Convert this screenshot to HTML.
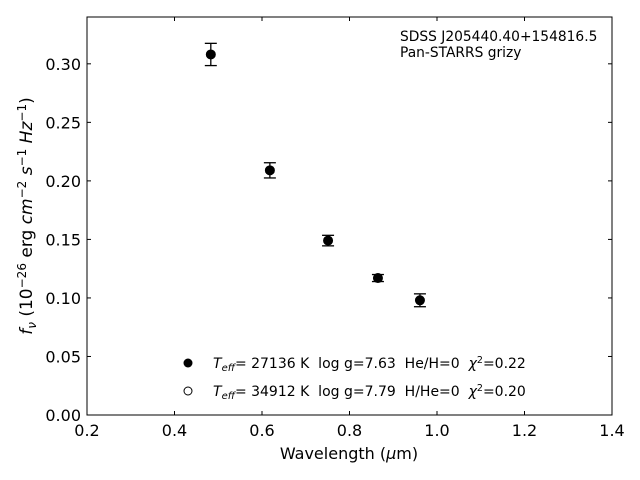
<!DOCTYPE html>
<html><head><meta charset="utf-8"><style>
body{margin:0;background:#fff}
svg{display:block;font-family:"DejaVu Sans","Liberation Sans",sans-serif}
text{white-space:pre}
</style></head><body>
<svg id="chart" width="640" height="480"></svg>
<script>
const wavelengths=[0.483,0.618,0.751,0.865,0.961];
const fluxFilled=[0.308,0.209,0.149,0.117,0.098];
const fluxErr=[0.0095,0.0065,0.0045,0.003,0.0055];
const fluxOpen=[0.308,0.209,0.149,0.117,0.098];
const xTicks=[0.2,0.4,0.6,0.8,1.0,1.2,1.4];
const yTicks=[0,0.05,0.10,0.15,0.20,0.25,0.30];
const L=87,R=612,T=17,B=415,X0=0.2,X1=1.4,Y0=0,Y1=0.34;
const sx=v=>L+(v-X0)/(X1-X0)*(R-L);
const sy=v=>B-(v-Y0)/(Y1-Y0)*(B-T);
const svg=document.getElementById('chart');
const NS='http://www.w3.org/2000/svg';
function mk(tag,attrs,parent){const e=document.createElementNS(NS,tag);for(const k in attrs)e.setAttribute(k,attrs[k]);(parent||svg).appendChild(e);return e;}
let f=mk('rect',{x:L,y:T,width:R-L,height:B-T,fill:'none',stroke:'#000','stroke-width':1});


xTicks.forEach(v=>{const x=sx(v);
mk('line',{x1:x,x2:x,y1:B,y2:B-4,stroke:'#000'});
mk('line',{x1:x,x2:x,y1:T,y2:T+4,stroke:'#000'});
const t=mk('text',{x:x,y:B+21,'text-anchor':'middle','font-size':16});t.textContent=v.toFixed(1);

});
yTicks.forEach(v=>{const y=sy(v);
mk('line',{x1:L,x2:L+4,y1:y,y2:y,stroke:'#000'});
mk('line',{x1:R,x2:R-4,y1:y,y2:y,stroke:'#000'});
const t=mk('text',{x:L-6,y:y+6,'text-anchor':'end','font-size':16});t.textContent=v.toFixed(2);

});
wavelengths.forEach((w,i)=>{const x=sx(w),y=sy(fluxFilled[i]),e=fluxErr[i];
const g=mk('g',{});


mk('line',{x1:x,x2:x,y1:sy(fluxFilled[i]-e),y2:sy(fluxFilled[i]+e),stroke:'#000','stroke-width':1.3},g);
[fluxFilled[i]-e,fluxFilled[i]+e].forEach(v=>mk('line',{x1:x-6,x2:x+6,y1:sy(v),y2:sy(v),stroke:'#000','stroke-width':1.3},g));
mk('circle',{cx:x,cy:sy(fluxOpen[i]),r:4.5,fill:'#fff',stroke:'#000'},g);
mk('circle',{cx:x,cy:y,r:4.5,fill:'#000'},g);});
</script>
<svg width="640" height="480" style="position:absolute;left:0;top:0">
<g>
<text x="400" y="41" font-size="13.8">SDSS J205440.40+154816.5</text>
<text x="400" y="57" font-size="13.8">Pan-STARRS grizy</text>
<text x="349" y="459" font-size="16" text-anchor="middle">Wavelength (<tspan font-style="italic">μ</tspan>m)</text>
<text transform="translate(32,216) rotate(-90)" font-size="17" text-anchor="middle"><tspan font-style="italic">f</tspan><tspan font-style="italic" font-size="12" dy="4">ν</tspan><tspan dy="-4"> (10</tspan><tspan font-size="12" dy="-6">−26</tspan><tspan dy="6"> erg </tspan><tspan font-style="italic">cm</tspan><tspan font-size="12" dy="-6">−2</tspan><tspan dy="6" font-style="italic"> s</tspan><tspan font-size="12" dy="-6">−1</tspan><tspan dy="6" font-style="italic"> Hz</tspan><tspan font-size="12" dy="-6">−1</tspan><tspan dy="6">)</tspan></text>
<g>
<circle cx="188" cy="363" r="4.5" fill="#000"/>
<text x="213" y="368" font-size="14"><tspan font-style="italic">T</tspan><tspan font-style="italic" font-size="10" dy="3">eff</tspan><tspan dy="-3">= 27136 K  log g=7.63  He/H=0  </tspan><tspan font-style="italic">χ</tspan><tspan font-size="9.5" dy="-5">2</tspan><tspan dy="5">=0.22</tspan></text>
<circle cx="188" cy="391" r="4" fill="#fff" stroke="#000"/>
<text x="213" y="396" font-size="14"><tspan font-style="italic">T</tspan><tspan font-style="italic" font-size="10" dy="3">eff</tspan><tspan dy="-3">= 34912 K  log g=7.79  H/He=0  </tspan><tspan font-style="italic">χ</tspan><tspan font-size="9.5" dy="-5">2</tspan><tspan dy="5">=0.20</tspan></text>
</g></g></svg>
</body></html>
